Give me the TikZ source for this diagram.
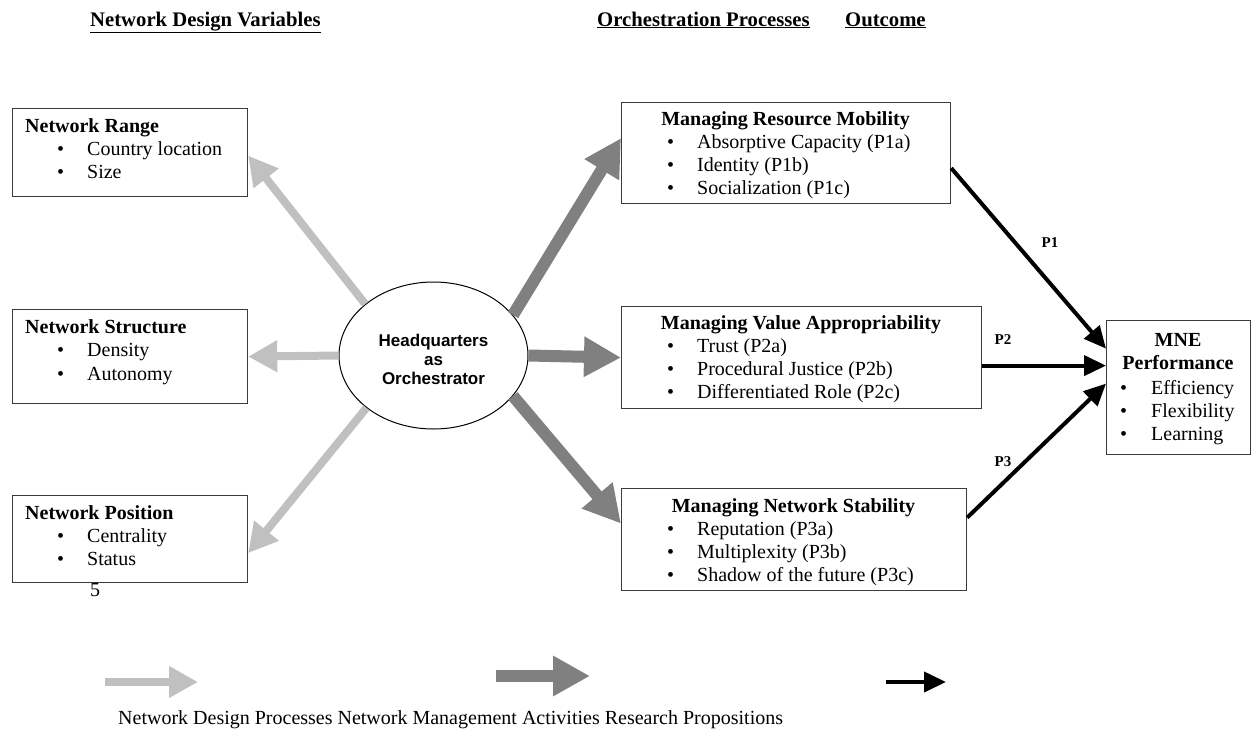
\documentclass[tikz,border=0pt]{standalone}
\usepackage{fontspec}
\setmainfont{Liberation Serif}
\newfontfamily\hqfont{Liberation Sans}
\usetikzlibrary{arrows.meta,shapes.geometric,calc}

\definecolor{designgray}{RGB}{192,192,192}
\definecolor{managegray}{RGB}{128,128,128}
\definecolor{frame}{RGB}{60,60,60}

% bullet with a fixed indent before the item text
\newcommand\bitem[2][30pt]{\makebox[#1][l]{\textbullet}#2}

\tikzset{
  box/.style={draw=frame, line width=1.2pt, rectangle, anchor=north west, inner sep=0pt},
  txt/.style={inner sep=0pt, anchor=base west, font=\fontsize{20}{23}\selectfont},
  ttl/.style={txt, font=\fontsize{20}{23}\selectfont\bfseries},
  head/.style={inner sep=0pt, anchor=base west, font=\fontsize{20.7}{24}\selectfont\bfseries},
  plabel/.style={inner sep=0pt, font=\fontsize{15}{18}\selectfont\bfseries},
  designarrow/.style={draw=designgray, line width=8pt, -{Triangle[length=29pt,width=30pt]}, fill=designgray},
  managearrow/.style={draw=managegray, line width=12pt, -{Triangle[length=37pt,width=38pt]}, fill=managegray},
  proparrow/.style={draw=black, line width=4pt, -{Triangle[length=22pt,width=20pt]}},
}

\begin{document}
\begin{tikzpicture}[x=1pt,y=-1pt]
\useasboundingbox (0,0) rectangle (1251,729);

% column headings
\node[head] (h1) at (90,26) {\underline{Network Design Variables}};
\node[head] (h2) at (597,26) {\underline{Orchestration Processes}};
\node[head] (h3) at (845,26) {\underline{Outcome}};

% network design variables
\node[box, minimum width=235pt, minimum height=88pt] (range) at (12,108) {};
\node[ttl] (range-t) at (25,132) {Network Range};
\node[txt] (range-1) at (57,155) {\bitem{Country location}};
\node[txt] (range-2) at (57,178) {\bitem{Size}};

\node[box, minimum width=235pt, minimum height=94pt] (struct) at (12,309) {};
\node[ttl] (struct-t) at (25,333) {Network Structure};
\node[txt] (struct-1) at (57,356) {\bitem{Density}};
\node[txt] (struct-2) at (57,380) {\bitem{Autonomy}};

\node[box, minimum width=235pt, minimum height=87pt] (pos) at (12,495) {};
\node[ttl] (pos-t) at (25,519) {Network Position};
\node[txt] (pos-1) at (57,542) {\bitem{Centrality}};
\node[txt] (pos-2) at (57,565) {\bitem{Status}};
\node[txt, anchor=base] (pagenum) at (95,596) {5};

% orchestrator
\node[draw=black, line width=1pt, ellipse, minimum width=189pt, minimum height=147pt,
      inner sep=0pt] (hq) at (433.5,355.5) {};
\node[inner sep=0pt, align=center, font=\hqfont\fontsize{17}{19}\selectfont\bfseries]
      (hq-label) at (433.5,359) {Headquarters\\as\\Orchestrator};

% orchestration processes
\node[box, minimum width=329pt, minimum height=101pt] (resmob) at (621,102) {};
\node[ttl, anchor=base] (resmob-t) at (785.5,125) {Managing Resource Mobility};
\node[txt] (resmob-1) at (667,148) {\bitem{Absorptive Capacity (P1a)}};
\node[txt] (resmob-2) at (667,171) {\bitem{Identity (P1b)}};
\node[txt] (resmob-3) at (667,194) {\bitem{Socialization (P1c)}};

\node[box, minimum width=360pt, minimum height=102pt] (valapp) at (621,306) {};
\node[ttl, anchor=base] (valapp-t) at (801,329) {Managing Value Appropriability};
\node[txt] (valapp-1) at (667,352) {\bitem{Trust (P2a)}};
\node[txt] (valapp-2) at (667,375) {\bitem{Procedural Justice (P2b)}};
\node[txt] (valapp-3) at (667,398) {\bitem{Differentiated Role (P2c)}};

\node[box, minimum width=345pt, minimum height=102pt] (netstab) at (621,488) {};
\node[ttl, anchor=base] (netstab-t) at (793.5,512) {Managing Network Stability};
\node[txt] (netstab-1) at (667,535) {\bitem{Reputation (P3a)}};
\node[txt] (netstab-2) at (667,558) {\bitem{Multiplexity (P3b)}};
\node[txt] (netstab-3) at (667,581) {\bitem{Shadow of the future (P3c)}};

% outcome
\node[box, minimum width=143.5pt, minimum height=134pt] (mne) at (1106,320) {};
\node[ttl, anchor=base] (mne-t1) at (1178,346) {MNE};
\node[ttl, anchor=base] (mne-t2) at (1178,369) {Performance};
\node[txt] (mne-1) at (1120,394) {\bitem[31pt]{Efficiency}};
\node[txt] (mne-2) at (1120,417) {\bitem[31pt]{Flexibility}};
\node[txt] (mne-3) at (1120,440) {\bitem[31pt]{Learning}};

% network design processes
\draw[designarrow] (hq.143) -- ($(range.east)+(0,3)$);
\draw[designarrow] (hq.west) -- (struct.east);
\draw[designarrow] (hq.218) -- ($(pos.east)+(0,14)$);

% network management activities
\draw[managearrow] (hq.27) -- ($(resmob.west)+(0,-15)$);
\draw[managearrow] (hq.east) -- (valapp.west);
\draw[managearrow] (hq.-27) -- ($(netstab.west)+(0,-16)$);

% research propositions
\draw[proparrow] ($(resmob.east)+(0,15)$) -- ($(mne.west)+(0,-39)$);
\draw[proparrow] ($(valapp.east)+(0,8)$) -- ($(mne.west)+(0,-22)$);
\draw[proparrow] ($(netstab.east)+(0,-22)$) -- ($(mne.west)+(0,-4)$);
\node[plabel] (p1) at (1050,243) {P1};
\node[plabel] (p2) at (1003,340) {P2};
\node[plabel] (p3) at (1003,462) {P3};

% legend
\coordinate (lg1a) at (105,682);
\coordinate (lg1b) at (198,682);
\coordinate (lg2a) at (496,676);
\coordinate (lg2b) at (590,676);
\coordinate (lg3a) at (886,682);
\coordinate (lg3b) at (946,682);
\draw[designarrow] (lg1a) -- (lg1b);
\draw[managearrow] (lg2a) -- (lg2b);
\draw[proparrow] (lg3a) -- (lg3b);
\node[txt] (legend) at (118,724)
  {Network Design Processes Network Management Activities Research Propositions};
\end{tikzpicture}
\end{document}
